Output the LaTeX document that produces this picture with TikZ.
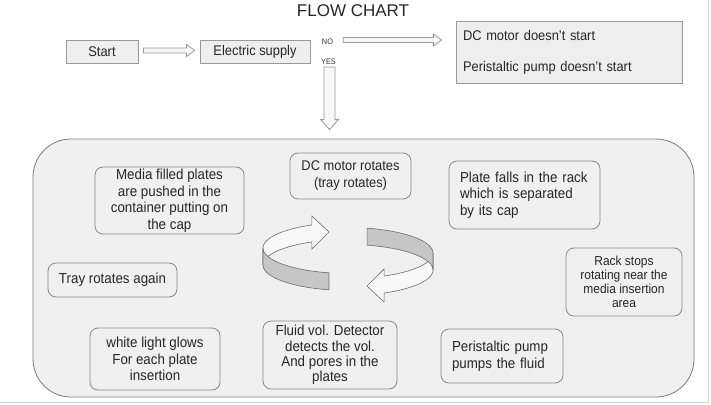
\documentclass[tikz,border=0pt]{standalone}
\usepackage{fontspec}
\setmainfont[FakeStretch=0.92]{Liberation Sans}
\newfontfamily\titlefont{Liberation Sans}
\usepackage{xcolor}
\usepackage{tikz}
\usetikzlibrary{calc}

\definecolor{boxline}{HTML}{9A9A9A}
\definecolor{boxfill}{HTML}{EEEEEE}
\definecolor{panelline}{HTML}{7C7C7C}
\definecolor{panelfill}{HTML}{F0F0F0}
\definecolor{cardline}{HTML}{888888}
\definecolor{ringgray}{HTML}{C6C6C6}
\definecolor{ringline}{HTML}{6C6C6C}

\tikzset{
  topbox/.style={draw=boxline, fill=boxfill, line width=0.8pt, inner sep=0pt,
    minimum height=23pt, text=black!85, font=\fontsize{14}{17}\selectfont},
  mainpanel/.style={draw=panelline, fill=panelfill, line width=0.8pt, rounded corners=38pt},
  card/.style={draw=cardline, fill=panelfill, line width=0.8pt, rounded corners=8pt,
    inner sep=0pt, align=center, text=black!85, font=\fontsize{14.5}{16.5}\selectfont},
  leftcard/.style={card, align=left, inner xsep=11pt},
  tinylabel/.style={inner sep=0pt, text=black!80, font=\fontsize{8}{9}\selectfont},
  harrow/.style={draw=boxline, fill=white!60!boxfill, line width=0.8pt,
    to path={let \p1=(\tikztostart), \p2=(\tikztotarget) in
      (\x1,\y1+2.5pt) -- (\x2-8pt,\y1+2.5pt) -- (\x2-8pt,\y1+6pt) -- (\x2,\y1)
      -- (\x2-8pt,\y1-6pt) -- (\x2-8pt,\y1-2.5pt) -- (\x1,\y1-2.5pt) -- cycle}},
  varrow/.style={draw=boxline, fill=white!60!boxfill, line width=0.8pt,
    to path={let \p1=(\tikztostart), \p2=(\tikztotarget) in
      (\x1-5.5pt,\y1) -- (\x1-5.5pt,\y2+10pt) -- (\x1-9pt,\y2+10pt) -- (\x1,\y2)
      -- (\x1+9pt,\y2+10pt) -- (\x1+5.5pt,\y2+10pt) -- (\x1+5.5pt,\y1) -- cycle}},
  ringface/.style={draw=ringline, fill=ringgray, line width=0.6pt},
  ringshaft/.style={draw=ringline, fill=white!50!panelfill, line width=0.6pt}
}

\begin{document}
\begin{tikzpicture}[x=1pt,y=-1pt]
    \useasboundingbox (0,0) rectangle (711,404);
    \draw[gray!35] (708,0) -- (708,402) -- (0,402);

    % top row
    \node[font=\titlefont\fontsize{17}{20}\selectfont, text=black!85] (title) at (353,11) {FLOW CHART};
    \node[topbox, minimum width=72pt] (start) at (102,51.5) {Start};
    \node[topbox, minimum width=110pt] (elec) at (255,51.5) {Electric supply};
    \node[topbox, minimum height=62pt, text width=212pt, inner xsep=7pt, align=left] (fail) at (569,52)
        {DC motor doesn't start\\[14pt]Peristaltic pump doesn't start};
    \node[tinylabel] (no) at (327.5,42) {NO};
    \node[tinylabel] (yes) at (328.5,62) {YES};

    % main panel
    \node[mainpanel, minimum width=661pt, minimum height=258pt] (main) at (363.5,268) {};

    \draw[harrow] ($(start.east)+(5,-1)$) to ($(elec.west)+(-5,-1)$);
    \draw[harrow] ($(no.east)+(10,-2)$) to ($(no.east -| fail.west)+(-14,-2)$);
    \draw[varrow] ($(yes.south)+(1,2)$) to ($(yes.south |- main.north)+(1,-9)$);

    % steps
    \node[card, minimum width=149pt, minimum height=67pt] (media) at (169.5,200.5)
        {Media filled plates\\are pushed in the\\container putting on\\the cap};
    \node[card, minimum width=121pt, minimum height=46pt, font=\fontsize{14}{17}\selectfont] (dcmot) at (350.5,176)
        {DC motor rotates\\(tray rotates)};
    \node[leftcard, minimum height=68pt, text width=129pt] (plate) at (524.5,195)
        {Plate falls in the rack\\which is separated\\by its cap};
    \node[card, minimum width=129pt, minimum height=34pt] (tray) at (112.5,280) {Tray rotates again};
    \node[card, minimum width=116pt, minimum height=68pt, font=\fontsize{13}{14}\selectfont] (rack) at (624,282)
        {Rack stops\\rotating near the\\media insertion\\area};
    \node[card, minimum width=130pt, minimum height=62pt] (light) at (155,359)
        {white light glows\\For each plate\\insertion};
    \node[card, minimum width=134pt, minimum height=68pt, font=\fontsize{14.5}{15.3}\selectfont] (fluid) at (330,355)
        {Fluid vol. Detector\\detects the vol.\\And pores in the\\plates};
    \node[leftcard, minimum height=54pt, text width=100pt] (pump) at (502,356)
        {Peristaltic pump\\pumps the fluid};

    % rotation symbol
    \foreach \turn in {0,180} {
      \begin{scope}[rotate around={\turn:(348,259)}]
        \draw[ringshaft] plot[domain=180:116, samples=30, variable=\t] ({350+87*cos(\t)}, {248-25.6*sin(\t)})
            -- (311.9,216) -- (329,232) -- (311.9,249)
            -- plot[domain=116:180, samples=30, variable=\t] ({350+87*cos(\t)}, {265-25.6*sin(\t)}) -- cycle;
        \draw[ringface] plot[domain=180:256, samples=30, variable=\t] ({350+87*cos(\t)}, {248-25.6*sin(\t)})
            -- plot[domain=256:180, samples=30, variable=\t] ({350+87*cos(\t)}, {265-25.6*sin(\t)}) -- cycle;
      \end{scope}
    }
\end{tikzpicture}
\end{document}
